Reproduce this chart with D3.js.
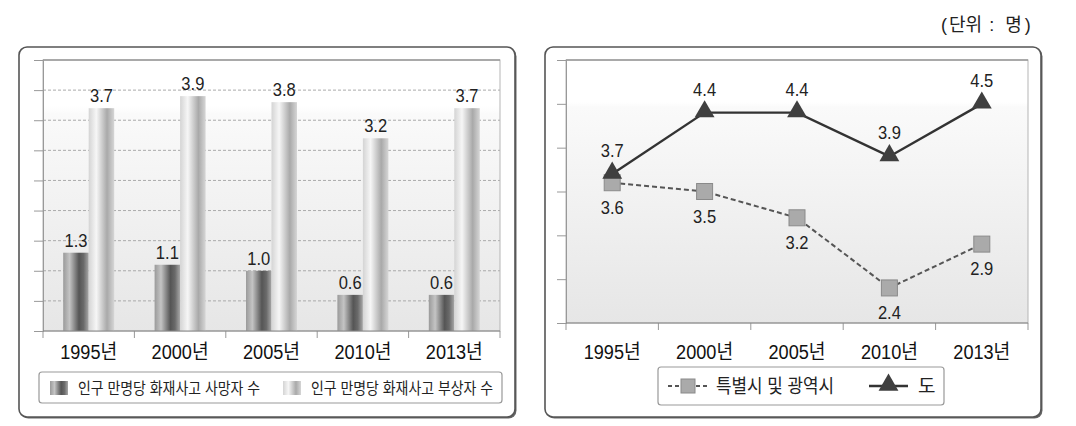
<!DOCTYPE html>
<html><head><meta charset="utf-8">
<script src="https://cdn.jsdelivr.net/npm/d3@7"></script>
<style>
html,body{margin:0;padding:0;background:#fff;}
svg{display:block;}
text{font-family:"Liberation Sans","Noto Sans CJK KR",Arial,sans-serif;}
</style></head>
<body>
<svg id="c" width="1076" height="426"></svg>
<script>
// ---- data ----
const years = ["1995년","2000년","2005년","2010년","2013년"];
const deaths = [1.3, 1.1, 1.0, 0.6, 0.6];
const injuries = [3.7, 3.9, 3.8, 3.2, 3.7];
const barSeriesNames = ["인구 만명당 화재사고 사망자 수","인구 만명당 화재사고 부상자 수"];
const metro = [3.6, 3.5, 3.2, 2.4, 2.9];
const provinces = [3.7, 4.4, 4.4, 3.9, 4.5];
const lineSeriesNames = ["특별시 및 광역시","도"];
const leftTicks = [0,0.5,1,1.5,2,2.5,3,3.5,4,4.5];
const rightTicks = [2,2.5,3,3.5,4,4.5,5];
const unitParts = ["(", "단위", " :", " 명", ")"];

const svg = d3.select("#c");
const defs = svg.append("defs");

function grad(id, stops, vertical){
  const g = defs.append("linearGradient").attr("id", id)
    .attr("x1",0).attr("y1",0).attr("x2",vertical?0:1).attr("y2",vertical?1:0);
  stops.forEach(s=>g.append("stop").attr("offset",s[0]).attr("stop-color",s[1]));
}
grad("darkBar",[[0,"#9a9a9a"],[0.25,"#c4c4c4"],[0.62,"#555"],[0.8,"#6a6a6a"],[1,"#a8a8a8"]]);
grad("lightBar",[[0,"#d4d4d4"],[0.3,"#f6f6f6"],[0.72,"#a9a9a9"],[1,"#d6d6d6"]]);
grad("bgL",[[0,"#ffffff"],[0.17,"#ffffff"],[0.2,"#fafafa"],[1,"#e6e6e6"]],true);
grad("bgR",[[0,"#ffffff"],[0.16,"#ffffff"],[0.18,"#fafafa"],[1,"#e6e6e6"]],true);

// unit label
{
  const t = svg.append("text").attr("x",941).attr("y",31).attr("font-size",18).attr("fill","#222")
    .attr("xml:space","preserve");
  const dxs=[0,2,2,6,3];
  unitParts.forEach((p,i)=>t.append("tspan").attr("dx",dxs[i]).text(p));
}

// panels
function panel(x){
  svg.append("rect").attr("x",x+1.5).attr("y",48.5).attr("width",496).attr("height",370)
    .attr("rx",8).attr("fill","#666");
  svg.append("rect").attr("x",x).attr("y",47).attr("width",496).attr("height",370)
    .attr("rx",8).attr("fill","#fff").attr("stroke","#555").attr("stroke-width",1.6);
}
panel(19); panel(545);

function valText(sel){
  return sel.attr("text-anchor","middle").attr("font-size",19).attr("fill","#222")
    .attr("textLength",23).attr("lengthAdjust","spacingAndGlyphs");
}

// ===== LEFT BAR CHART =====
{
  const L=43,R=500,T=60,B=331;
  const x = d3.scaleBand().domain(years).range([L,R]);
  const y = d3.scaleLinear().domain([0,4.5]).range([B,T]);
  const g = svg.append("g");
  g.append("rect").attr("x",L).attr("y",T).attr("width",R-L).attr("height",B-T).attr("fill","url(#bgL)");
  g.selectAll(".gl").data(leftTicks.filter(d=>d>0 && d<4.5)).enter().append("line")
    .attr("x1",L).attr("x2",R).attr("y1",d=>y(d)).attr("y2",d=>y(d))
    .attr("stroke","#aaa").attr("stroke-dasharray","3,2").attr("stroke-width",1);
  g.append("rect").attr("x",L).attr("y",T).attr("width",R-L).attr("height",B-T)
    .attr("fill","none").attr("stroke","#b5b5b5").attr("stroke-width",1);
  g.append("line").attr("x1",L).attr("x2",R).attr("y1",T).attr("y2",T).attr("stroke","#999").attr("stroke-width",1.5);
  const ya = d3.axisLeft(y).tickValues(leftTicks.concat([4.5])).tickSize(9).tickFormat("");
  const yg = g.append("g").attr("transform",`translate(${L},0)`).call(ya);
  yg.select(".domain").attr("stroke","#999");
  yg.selectAll(".tick line").attr("stroke","#999");
  const bw = 25.5;
  const cx = d=>x(d)+x.bandwidth()/2;
  g.selectAll(".bd").data(years).enter().append("rect")
    .attr("x",d=>cx(d)-bw).attr("width",bw)
    .attr("y",(d,i)=>y(deaths[i])).attr("height",(d,i)=>B-y(deaths[i])).attr("fill","url(#darkBar)");
  g.selectAll(".bi").data(years).enter().append("rect")
    .attr("x",d=>cx(d)).attr("width",bw)
    .attr("y",(d,i)=>y(injuries[i])).attr("height",(d,i)=>B-y(injuries[i])).attr("fill","url(#lightBar)");
  valText(g.selectAll(".ld").data(years).enter().append("text")
    .attr("x",d=>cx(d)-bw/2).attr("y",(d,i)=>y(deaths[i])-6)).text((d,i)=>deaths[i].toFixed(1));
  valText(g.selectAll(".li").data(years).enter().append("text")
    .attr("x",d=>cx(d)+bw/2).attr("y",(d,i)=>y(injuries[i])-6)).text((d,i)=>injuries[i].toFixed(1));
  const xb = d3.scaleLinear().domain([0,5]).range([L,R]);
  g.selectAll(".xt").data(d3.range(6)).enter().append("line")
    .attr("x1",d=>xb(d)).attr("x2",d=>xb(d)).attr("y1",B).attr("y2",B+7).attr("stroke","#999");
  g.append("line").attr("x1",L).attr("x2",R).attr("y1",B).attr("y2",B).attr("stroke","#888").attr("stroke-width",1.2);
  g.selectAll(".xl").data(years).enter().append("text")
    .attr("x",d=>cx(d)).attr("y",359).attr("text-anchor","middle")
    .attr("font-size",20).attr("fill","#111").attr("textLength",57).attr("lengthAdjust","spacingAndGlyphs").text(d=>d);
  g.append("rect").attr("x",39).attr("y",372).attr("width",463).attr("height",31).attr("rx",3)
    .attr("fill","#fff").attr("stroke","#999").attr("stroke-width",1.2);
  const items=[{x:50,fill:"url(#darkBar)",t:barSeriesNames[0]},{x:283,fill:"url(#lightBar)",t:barSeriesNames[1]}];
  items.forEach(it=>{
    g.append("rect").attr("x",it.x).attr("y",381).attr("width",18).attr("height",14).attr("fill",it.fill);
    g.append("text").attr("x",it.x+28).attr("y",394).attr("font-size",16).attr("fill","#222")
      .attr("textLength",182).attr("lengthAdjust","spacingAndGlyphs").text(it.t);
  });
}

// ===== RIGHT LINE CHART =====
{
  const L=566,R=1028,T=60,B=323;
  const x = d3.scalePoint().domain(years).range([L,R]).padding(0.5);
  const y = d3.scaleLinear().domain([2,5]).range([B,T]);
  const g = svg.append("g");
  g.append("rect").attr("x",L).attr("y",T).attr("width",R-L).attr("height",B-T).attr("fill","url(#bgR)");
  g.append("rect").attr("x",L).attr("y",T).attr("width",R-L).attr("height",B-T)
    .attr("fill","none").attr("stroke","#b5b5b5").attr("stroke-width",1);
  g.append("line").attr("x1",L).attr("x2",R).attr("y1",T).attr("y2",T).attr("stroke","#999").attr("stroke-width",1.5);
  const ya = d3.axisLeft(y).tickValues(rightTicks).tickSize(9).tickFormat("");
  const yg = g.append("g").attr("transform",`translate(${L},0)`).call(ya);
  yg.select(".domain").attr("stroke","#999");
  yg.selectAll(".tick line").attr("stroke","#999");
  const xb = d3.scaleLinear().domain([0,5]).range([L,R]);
  g.selectAll(".xt").data(d3.range(6)).enter().append("line")
    .attr("x1",d=>xb(d)).attr("x2",d=>xb(d)).attr("y1",B).attr("y2",B+7).attr("stroke","#999");
  g.append("line").attr("x1",L).attr("x2",R).attr("y1",B).attr("y2",B).attr("stroke","#888").attr("stroke-width",1.2);
  g.selectAll(".xl").data(years).enter().append("text")
    .attr("x",d=>x(d)).attr("y",359).attr("text-anchor","middle")
    .attr("font-size",20).attr("fill","#111").attr("textLength",57).attr("lengthAdjust","spacingAndGlyphs").text(d=>d);

  const line = d3.line().x((d,i)=>x(years[i])).y(d=>y(d));
  g.append("path").datum(metro).attr("d",line).attr("fill","none").attr("stroke","#555")
    .attr("stroke-width",2).attr("stroke-dasharray","5,3");
  g.append("path").datum(provinces).attr("d",line).attr("fill","none").attr("stroke","#333")
    .attr("stroke-width",2.4);
  const tri = d3.symbol().type(d3.symbolTriangle).size(170);
  g.selectAll(".sq").data(metro).enter().append("rect")
    .attr("x",(d,i)=>x(years[i])-8).attr("y",d=>y(d)-8).attr("width",16).attr("height",16)
    .attr("fill","#aaa").attr("stroke","#8a8a8a").attr("stroke-width",1);
  g.selectAll(".tr").data(provinces).enter().append("path")
    .attr("d",tri).attr("transform",(d,i)=>`translate(${x(years[i])},${y(d)-1})`).attr("fill","#3f3f3f");
  valText(g.selectAll(".lm").data(metro).enter().append("text")
    .attr("x",(d,i)=>x(years[i])).attr("y",d=>y(d)+31)).text(d=>d.toFixed(1));
  valText(g.selectAll(".lp").data(provinces).enter().append("text")
    .attr("x",(d,i)=>x(years[i])).attr("y",d=>y(d)-17)).text(d=>d.toFixed(1));
  g.append("rect").attr("x",658).attr("y",367).attr("width",286).attr("height",38).attr("rx",3)
    .attr("fill","#fff").attr("stroke","#999").attr("stroke-width",1.2);
  g.append("line").attr("x1",668).attr("x2",708).attr("y1",386).attr("y2",386).attr("stroke","#555")
    .attr("stroke-width",2).attr("stroke-dasharray","4,3");
  g.append("rect").attr("x",681).attr("y",379).attr("width",14).attr("height",14).attr("fill","#aaa").attr("stroke","#8a8a8a");
  g.append("text").attr("x",716).attr("y",393).attr("font-size",19).attr("fill","#222")
    .attr("textLength",118).attr("lengthAdjust","spacingAndGlyphs").text(lineSeriesNames[0]);
  g.append("line").attr("x1",869).attr("x2",908).attr("y1",386).attr("y2",386).attr("stroke","#333").attr("stroke-width",2.4);
  g.append("path").attr("d",tri).attr("transform","translate(888.5,385)").attr("fill","#3f3f3f");
  g.append("text").attr("x",918).attr("y",393).attr("font-size",19).attr("fill","#222").text(lineSeriesNames[1]);
}
</script>
</body></html>
